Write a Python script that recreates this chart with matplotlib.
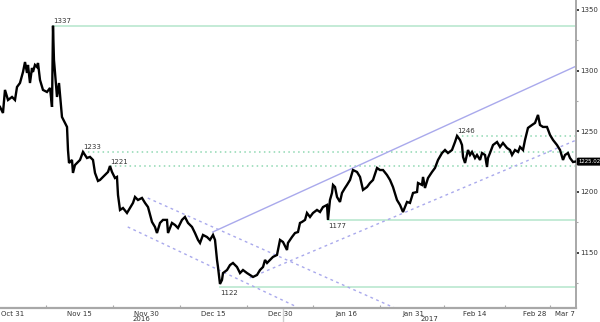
import matplotlib
matplotlib.use("Agg")
import matplotlib.pyplot as plt
import matplotlib.transforms as mtransforms
import numpy as np

# trading-day index (0 = Oct 31 2016) and gold price
day = [-2.14, -1.65, -1.32, -0.82, -0.16, 0.33, 0.66, 1.15, 1.65, 1.98, 2.31, 2.47, 2.80, 3.13,
       3.29, 3.62, 3.95, 4.12, 4.45, 4.94, 5.60, 6.10, 6.43, 6.59, 6.75, 7.25, 7.58, 8.07, 8.57,
       8.90, 9.06, 9.23, 9.72, 9.88, 10.21, 10.54, 11.04, 11.53, 12.19, 12.68, 13.18, 13.51,
       14.00, 14.33, 14.83, 15.16, 15.65, 15.98, 16.31, 16.80, 17.13, 17.30, 17.63, 18.12, 18.78,
       19.27, 19.77, 20.10, 20.59, 21.25, 21.75, 22.24, 22.90, 23.39, 23.72, 24.22, 24.71, 25.37,
       25.54, 26.19, 26.69, 27.18, 27.84, 28.33, 28.83, 29.49, 29.98, 30.48, 30.81, 31.30, 31.96,
       32.45, 32.95, 33.28, 33.61, 33.77, 34.10, 34.43, 34.60, 35.26, 35.75, 36.24, 36.90, 37.40,
       37.89, 38.55, 39.04, 39.54, 40.20, 40.69, 41.19, 41.52, 41.85, 42.34, 42.83, 43.49, 43.99,
       44.48, 45.14, 45.30, 45.96, 46.46, 46.95, 47.28, 47.61, 48.11, 48.43, 48.93, 49.42, 50.08,
       50.58, 51.07, 51.73, 51.89, 52.22, 52.55, 52.72, 53.05, 53.38, 53.87, 54.20, 54.69, 55.02,
       55.52, 56.01, 56.67, 57.17, 57.66, 58.32, 58.81, 59.31, 59.97, 60.46, 60.96, 61.61, 62.11,
       62.60, 63.26, 63.76, 64.25, 64.91, 65.40, 65.90, 66.56, 66.72, 67.38, 67.55, 67.87, 68.37,
       69.03, 69.52, 70.02, 70.68, 71.17, 71.66, 72.32, 72.82, 73.15, 73.64, 73.97, 74.14, 74.47,
       74.96, 75.29, 75.62, 76.11, 76.44, 76.94, 77.27, 77.76, 78.09, 78.25, 78.58, 79.08, 79.74,
       80.23, 80.72, 81.38, 81.88, 82.21, 82.70, 83.20, 83.53, 84.02, 84.35, 84.84, 85.50, 86.00,
       86.49, 86.82, 87.31, 87.97, 88.47, 88.96, 89.62, 90.12, 90.61, 90.94, 91.43, 91.76, 92.26,
       92.59]
price = [1270.1, 1265.1, 1284.1, 1275.8, 1278.3, 1275.8, 1286.5, 1289.8, 1298.9, 1307.1, 1298.1,
         1304.7, 1289.8, 1302.2, 1298.9, 1304.7, 1303.0, 1306.3, 1292.3, 1284.1, 1282.4, 1285.7,
         1270.1, 1337.0, 1308.8, 1278.3, 1289.8, 1261.8, 1256.9, 1253.6, 1234.6, 1223.9, 1226.4,
         1215.7, 1222.2, 1223.9, 1226.4, 1233.0, 1228.0, 1228.9, 1226.4, 1215.7, 1209.1, 1209.9,
         1212.4, 1214.0, 1216.5, 1221.4, 1216.5, 1211.5, 1212.4, 1197.5, 1185.2, 1186.8, 1182.7,
         1186.8, 1191.0, 1195.9, 1193.4, 1195.1, 1191.0, 1187.6, 1175.3, 1171.2, 1166.2, 1174.5,
         1177.0, 1177.0, 1166.2, 1174.5, 1172.8, 1170.3, 1177.0, 1179.4, 1174.5, 1171.2, 1166.2,
         1160.5, 1158.0, 1164.6, 1162.9, 1160.5, 1164.6, 1160.5, 1144.0, 1138.2, 1124.2, 1127.5,
         1133.2, 1135.7, 1139.8, 1141.5, 1138.2, 1133.2, 1135.7, 1133.2, 1131.6, 1130.0, 1131.6,
         1135.7, 1138.2, 1144.0, 1141.5, 1144.0, 1146.5, 1148.1, 1160.5, 1158.8, 1152.2, 1158.0,
         1162.9, 1166.2, 1167.0, 1174.5, 1175.3, 1177.0, 1182.7, 1179.4, 1182.7, 1185.2, 1183.5,
         1187.6, 1189.3, 1177.0, 1193.4, 1199.2, 1205.8, 1204.1, 1195.9, 1191.8, 1199.2, 1203.3,
         1205.8, 1209.9, 1218.1, 1216.5, 1212.4, 1201.7, 1204.1, 1207.4, 1209.9, 1219.8, 1218.1,
         1218.1, 1214.0, 1209.9, 1204.1, 1193.4, 1189.3, 1183.5, 1191.8, 1191.0, 1199.2, 1200.0,
         1207.4, 1205.8, 1212.4, 1203.3, 1211.5, 1216.5, 1219.8, 1226.4, 1232.1, 1234.6, 1232.1,
         1234.6, 1241.2, 1246.2, 1242.9, 1238.7, 1228.9, 1223.9, 1234.6, 1230.5, 1233.0, 1228.0,
         1230.5, 1226.4, 1232.1, 1230.5, 1220.6, 1228.0, 1232.1, 1238.7, 1241.2, 1237.1, 1240.4,
         1236.3, 1234.6, 1230.5, 1234.6, 1233.0, 1237.1, 1234.6, 1242.9, 1252.8, 1255.2, 1256.9,
         1263.5, 1255.2, 1253.6, 1253.6, 1247.0, 1242.9, 1238.7, 1234.6, 1226.4, 1230.5, 1232.1,
         1228.0, 1224.7, 1225.0]
last_price = 1225.02

tick_dates = ["2016-10-31", "2016-11-15", "2016-11-30", "2016-12-15", "2016-12-30",
              "2017-01-16", "2017-01-31", "2017-02-14", "2017-02-28", "2017-03-07"]
tick_labels = ["Oct 31", "Nov 15", "Nov 30", "Dec 15", "Dec 30",
               "Jan 16", "Jan 31", "Feb 14", "Feb 28", "Mar 7"]
year_labels = ["2016", "2017"]
y_ticks = [1150, 1200, 1250, 1300, 1350]

# support / resistance levels and the day they start
solid_levels = [1337, 1177, 1122]
solid_start = [6.6, 51.9, 34.1]
dotted_levels = [1233, 1221, 1246]
dotted_start = [11.5, 16.0, 73.2]

# trend lines: (day, price) end points
up_channel_top = [(32.9, 1167.0), (92.9, 1304.0)]
up_channel_low = [(39.0, 1129.2), (92.9, 1243.0)]
down_channel_top = [(22.2, 1195.0), (62.9, 1104.4)]
down_channel_low = [(18.9, 1171.2), (46.8, 1105.2)]

X_MIN, X_MAX = -2.14, 92.75
Y_MIN, Y_MAX = 1104.4, 1358.2

GREEN_SOLID = "#bfe9d3"
GREEN_DOT = "#8fd8b2"
LAVENDER = "#a9a9ec"
GRAY = "#a8a8a8"
TXT = "#333333"

fig = plt.figure(figsize=(6, 3.22), dpi=100)
ax = fig.add_axes([0, 1 - 308 / 322, 576 / 600, 308 / 322])

# levels
for lv, st in zip(solid_levels, solid_start):
    ax.plot([st, X_MAX], [lv, lv], color=GREEN_SOLID, lw=1.3, zorder=1)
for lv, st in zip(dotted_levels, dotted_start):
    ax.plot([st, X_MAX], [lv, lv], color=GREEN_DOT, lw=1.1, ls=(0, (1, 2.2)), zorder=1)

# labels for levels (above for resistance, below for support)
for lv, st in zip(solid_levels + dotted_levels, solid_start + dotted_start):
    below = lv in (1177, 1122)
    ax.text(st, lv + (-2.5 if below else 1.5), f"{lv}", fontsize=5, color=TXT,
            ha="left", va="top" if below else "bottom")

# trend lines
for seg, ls in [(up_channel_top, "-"), (up_channel_low, (0, (2, 2.5))),
                (down_channel_top, (0, (2, 2.5))), (down_channel_low, (0, (2, 2.5)))]:
    xs, ys = zip(*seg)
    ax.plot(xs, ys, color=LAVENDER, lw=1.0, ls=ls, zorder=1)

# price
ax.plot(day, price, color="black", lw=1.7, zorder=3, solid_joinstyle="miter")

ax.set_xlim(X_MIN, X_MAX)
ax.set_ylim(Y_MIN, Y_MAX)

# x axis: trading-day positions of the dates
tick_pos = [np.busday_count("2016-10-31", d) for d in tick_dates]
ax.set_xticks(tick_pos)
ax.set_xticklabels(tick_labels, fontsize=5, color=TXT)
mids = [(a + b) / 2 for a, b in zip(tick_pos[:-1], tick_pos[1:])]
ax.set_xticks(mids, minor=True)
ax.tick_params(axis="x", which="major", length=0, pad=2)
ax.tick_params(axis="x", which="minor", length=2, width=0.8, color=GRAY, direction="in")

year_break = np.busday_count("2016-10-31", "2016-12-30") + 0.5
trans = mtransforms.blended_transform_factory(ax.transData, ax.transAxes)
for lab, x in zip(year_labels, [(X_MIN + year_break) / 2, (year_break + X_MAX) / 2]):
    ax.text(x, -0.036, lab, transform=trans, fontsize=5, color=TXT, ha="center", va="center")
ax.plot([year_break, year_break], [0, -0.05], transform=trans, color="#cfcfcf",
        lw=1, clip_on=False)

# y axis on the right
ax.yaxis.tick_right()
ax.set_yticks(y_ticks)
ax.set_yticklabels([str(v) for v in y_ticks], fontsize=5, color=TXT)
ax.set_yticks(np.arange(1125, 1360, 50), minor=True)
ax.tick_params(axis="y", which="major", length=2, width=1.2, color="#222222", pad=1)
ax.tick_params(axis="y", which="minor", length=1.5, width=0.8, color=GRAY)

for s in ["top", "left"]:
    ax.spines[s].set_visible(False)
ax.spines["bottom"].set_color(GRAY)
ax.spines["bottom"].set_linewidth(1.6)
ax.spines["right"].set_color(GRAY)
ax.spines["right"].set_linewidth(1.4)

# last price tag
ytrans = mtransforms.blended_transform_factory(ax.transAxes, ax.transData)
ax.text(1.004, last_price, f"{last_price:.2f}", transform=ytrans, fontsize=3.9,
        color="white", ha="left", va="center",
        bbox=dict(boxstyle="round,pad=0.15", fc="black", ec="black"))

plt.savefig("out.png", dpi=100)
plt.close()
